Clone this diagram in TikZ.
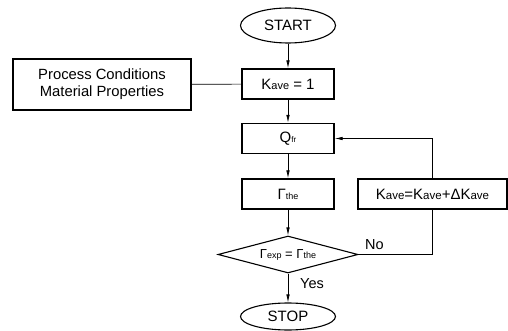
\documentclass[tikz,border=0pt]{standalone}
\usepackage{fontspec}
\setmainfont{Liberation Sans}
\usetikzlibrary{shapes.geometric,arrows.meta}
\newcommand{\fs}[1]{\fontsize{#1}{#1}\selectfont}
\begin{document}
\begin{tikzpicture}[x=1pt,y=-1pt,
  box/.style={draw,line width=1.3pt,minimum width=92pt,minimum height=30pt,inner sep=0pt,font=\fs{15}},
  term/.style={draw,ellipse,line width=1.1pt,minimum width=95pt,minimum height=35pt,inner sep=0pt,font=\fs{15}},
  dec/.style={draw,diamond,aspect=3.8,line width=1.1pt,minimum width=140pt,minimum height=37pt,inner sep=0pt,font=\fs{13}},
  arr/.style={line width=0.7pt,-{Latex[length=8pt,width=3.5pt]}},
  ln/.style={line width=0.7pt},
  lbl/.style={font=\fs{14.5},inner sep=0pt}]
\useasboundingbox (0,0) rectangle (508,331);
\node[term] (start) at (288,25.5) {START};
\node[box] (k1) at (288,84) {K{\fs{11}ave} = 1};
\node[box,minimum width=178pt,minimum height=51pt,font=\fs{14.8},align=center] (pc) at (102,84.5) {Process Conditions\\[2pt]Material Properties};
\node[box] (q) at (288,138.5) {Q{\fs{8}fr}};
\node[box] (g) at (288,194) {Γ{\fs{9}the}};
\node[box,minimum width=149pt] (kk) at (432.5,194) {K{\fs{11.5}ave}=K{\fs{11.5}ave}+ΔK{\fs{11.5}ave}};
\node[dec] (d) at (288,254.5) {Γ{\fs{9}exp} = Γ{\fs{9}the}};
\node[term,minimum height=27pt] (stop) at (288,316.5) {STOP};
\node[lbl,anchor=west] (yes) at (300,284) {Yes};
\node[lbl,anchor=west] (no) at (365,245) {No};
\draw[arr] (start) -- (k1);
\draw[ln] (pc) -- (k1);
\draw[arr] (k1) -- (q);
\draw[arr] (q) -- (g);
\draw[arr] (g) -- (d);
\draw[arr] (d) -- (stop);
\draw[ln] (d.east) -| (kk.south);
\draw[arr] (kk.north) |- (q.east);
\end{tikzpicture}
\end{document}
